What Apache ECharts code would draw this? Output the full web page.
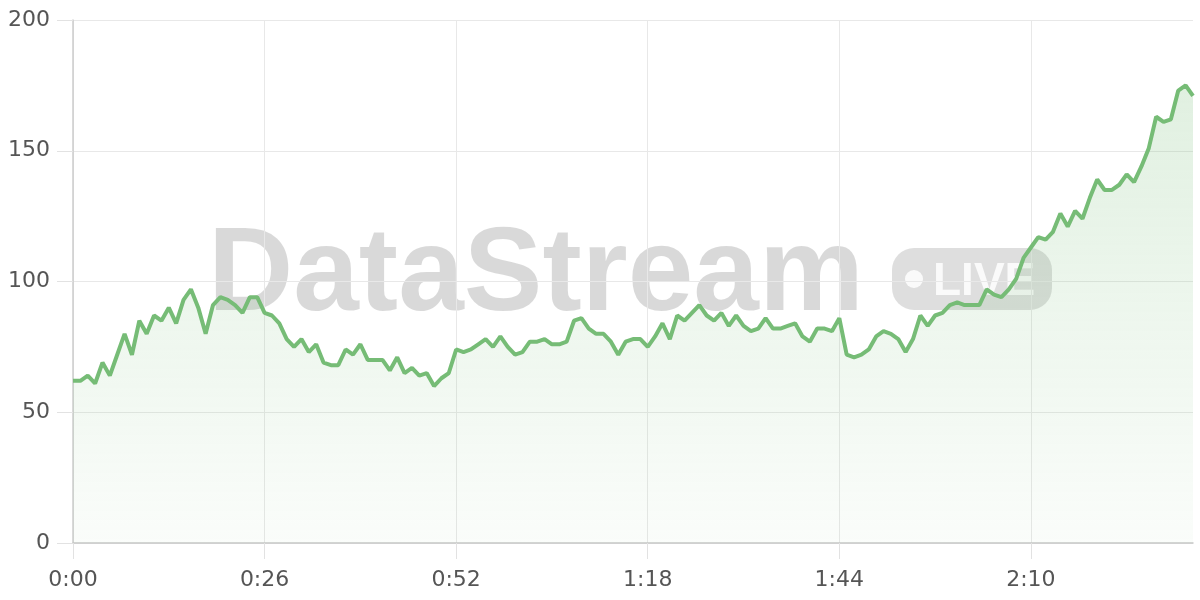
<!DOCTYPE html>
<html>
<head>
<meta charset="utf-8">
<script src="https://cdn.jsdelivr.net/npm/echarts@6/dist/echarts.min.js"></script>
<style>
html,body{margin:0;padding:0;background:#fff;}
#chart{width:1200px;height:600px;}
</style>
</head>
<body>
<div id="chart"></div>
<script>
// one sample per second, 0:00 .. 2:32
const values = [
  62, 62, 64, 61, 69, 64, 72, 80, 72, 85,
  80, 87, 85, 90, 84, 93, 97, 90, 80, 91,
  94, 93, 91, 88, 94, 94, 88, 87, 84, 78,
  75, 78, 73, 76, 69, 68, 68, 74, 72, 76,
  70, 70, 70, 66, 71, 65, 67, 64, 65, 60,
  63, 65, 74, 73, 74, 76, 78, 75, 79, 75,
  72, 73, 77, 77, 78, 76, 76, 77, 85, 86,
  82, 80, 80, 77, 72, 77, 78, 78, 75, 79,
  84, 78, 87, 85, 88, 91, 87, 85, 88, 83,
  87, 83, 81, 82, 86, 82, 82, 83, 84, 79,
  77, 82, 82, 81, 86, 72, 71, 72, 74, 79,
  81, 80, 78, 73, 78, 87, 83, 87, 88, 91,
  92, 91, 91, 91, 97, 95, 94, 97, 101, 109,
  113, 117, 116, 119, 126, 121, 127, 124, 132, 139,
  135, 135, 137, 141, 138, 144, 151, 163, 161, 162,
  173, 175, 171
];
const fmtTime = s => Math.floor(s / 60) + ':' + String(s % 60).padStart(2, '0');
const categories = values.map((_, i) => fmtTime(i));
const tickLabels = ['0:00', '0:26', '0:52', '1:18', '1:44', '2:10'];
const yTicks = [0, 50, 100, 150, 200];

const chart = echarts.init(document.getElementById('chart'), null, {renderer: 'canvas'});
const labelFont = {color: '#555', fontSize: 22, fontFamily: 'DejaVu Sans'};
chart.setOption({
  animation: false,
  grid: {left: 73, right: 7, top: 20, bottom: 57},
  xAxis: {
    type: 'category',
    data: categories,
    boundaryGap: false,
    axisLine: {show: true, lineStyle: {color: '#c8c8c8', width: 1.5}},
    axisTick: {show: true, interval: 25, length: 16, lineStyle: {color: '#e2e2e2', width: 1}},
    axisLabel: Object.assign({interval: 25, margin: 26,
      formatter: v => tickLabels.includes(v) ? v : ''}, labelFont),
    splitLine: {show: true, interval: 25, lineStyle: {color: '#e8e8e8', width: 1}}
  },
  yAxis: {
    type: 'value',
    min: yTicks[0],
    max: yTicks[yTicks.length - 1],
    interval: 50,
    axisLine: {show: true, lineStyle: {color: '#cccccc', width: 1.5}},
    axisTick: {show: true, length: 16, lineStyle: {color: '#e2e2e2', width: 1}},
    axisLabel: Object.assign({margin: 23}, labelFont),
    splitLine: {show: true, lineStyle: {color: '#e8e8e8', width: 1}}
  },
  series: [{
    type: 'line',
    data: values,
    showSymbol: false,
    symbol: 'none',
    smooth: false,
    lineStyle: {color: '#76bc76', width: 4},
    itemStyle: {color: '#76bc76'},
    areaStyle: {
      color: new echarts.graphic.LinearGradient(0, 0, 0, 1, [
        {offset: 0, color: 'rgba(120,189,120,0.32)'},
        {offset: 1, color: 'rgba(120,189,120,0.05)'}
      ])
    },
    z: 2
  }],
  graphic: [{
    type: 'group',
    z: 100,
    silent: true,
    children: [
      {
        type: 'text',
        x: 208, y: 277,
        style: {
          text: 'DataStream',
          font: 'bold 118px "Liberation Sans", Arial, sans-serif',
          fill: 'rgba(0,0,0,0.15)',
          align: 'left',
          verticalAlign: 'middle'
        }
      },
      {
        type: 'rect',
        shape: {x: 892, y: 248, width: 160, height: 62, r: 22},
        style: {fill: 'rgba(0,0,0,0.13)'}
      },
      {
        type: 'circle',
        shape: {cx: 914, cy: 279, r: 9},
        style: {fill: 'rgba(255,255,255,0.85)'}
      },
      {
        type: 'text',
        x: 933, y: 282,
        style: {
          text: 'LIVE',
          font: 'bold 46px "Liberation Sans", Arial, sans-serif',
          fill: 'rgba(255,255,255,0.85)',
          align: 'left',
          verticalAlign: 'middle'
        }
      }
    ]
  }]
});
</script>
</body>
</html>
